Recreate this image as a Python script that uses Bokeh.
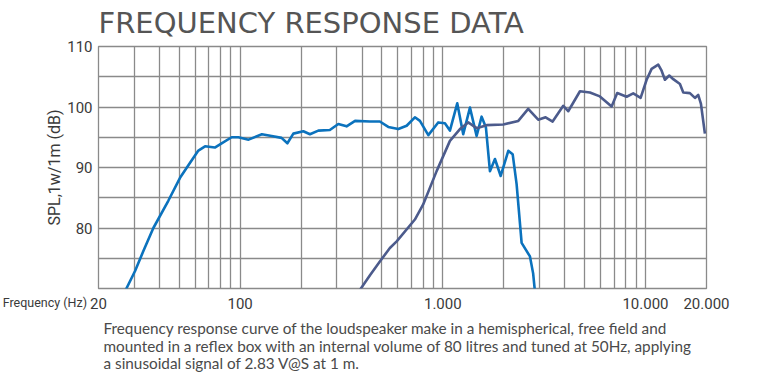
from bokeh.plotting import figure
from bokeh.models import FixedTicker, Range1d, Title
from bokeh.embed import file_html
from bokeh.resources import INLINE

# ---- data ----
woofer_f = [27, 30.3, 33.3, 37.3, 44.2, 50.5, 56.6, 62.2, 67.1, 75, 81, 90.8, 98, 110,
            128, 143, 160, 171, 183, 205, 221, 243, 277, 305, 335, 369, 437, 489, 538,
            603, 663, 728, 771, 848, 949, 1024, 1084, 1178, 1261, 1361, 1468, 1554, 1632,
            1708, 1808, 1930, 2104, 2211, 2313, 2448, 2691, 2790, 2848]
woofer_db = [69.5, 72.9, 76.2, 80.0, 84.5, 88.3, 90.8, 92.8, 93.5, 93.3, 94.0, 95.0, 95.0, 94.6,
             95.5, 95.2, 94.9, 94.0, 95.6, 96.0, 95.5, 96.1, 96.2, 97.2, 96.8, 97.7, 97.6, 97.6, 96.7,
             96.35, 96.9, 98.3, 97.7, 95.35, 97.45, 97.3, 96.1, 100.6, 95.5, 99.9, 95.2, 98.4, 96.6,
             89.4, 91.4, 88.6, 92.75, 92.2, 87.2, 77.55, 75.3, 72.5, 69.5]

tweeter_f = [385, 437, 490, 548, 592, 728, 800, 932, 1084, 1215, 1335, 1468, 1645, 1987, 2357,
             2638, 2955, 3215, 3482, 3929, 4157, 4750, 5318, 5957, 6805, 7254, 8068, 8700, 9462,
             10130, 10720, 11560, 12010, 12470, 13100, 13710, 14790, 15360, 16560, 17540, 18200,
             18780, 19640]
tweeter_db = [69.5, 72.2, 74.5, 76.7, 77.8, 81.4, 83.9, 89.4, 94.4, 96.35, 97.45, 96.5, 97.0, 97.1, 97.7,
              99.7, 97.9, 98.3, 97.6, 100.2, 99.3, 102.6, 102.4, 101.75, 100.1, 102.3, 101.7, 102.25, 101.5,
              104.5, 106.3, 107.0, 106.0, 104.5, 105.2, 104.6, 103.8, 102.4, 102.3, 101.5, 102.0,
              100.5, 95.6]

x_ticks = [20, 100, 1000, 10000, 20000]
x_tick_labels = ["20", "100", "1.000", "10.000", "20.000"]
x_grid = [20, 30, 40, 50, 60, 70, 80, 90,
          100, 200, 300, 400, 500, 600, 700, 800, 900,
          1000, 2000, 3000, 4000, 5000, 6000, 7000, 8000, 9000,
          10000, 20000]
y_ticks = [80, 90, 100, 110]
y_grid = [75, 80, 85, 90, 95, 100, 105]

title_text = "FREQUENCY RESPONSE DATA"
y_label = "SPL,1w/1m (dB)"
x_label = "Frequency (Hz)"
caption = [
    "Frequency response curve of the loudspeaker make in a hemispherical, free field and",
    "mounted in a reflex box with an internal volume of 80 litres and tuned at 50Hz, applying",
    "a sinusoidal signal of 2.83 V@S at 1 m.",
]

GRID = "#8a8a8a"
AXF = "Roboto"
TXT = "#3a3a3a"

p = figure(width=760, height=382, x_axis_type="log",
           x_range=Range1d(20, 20000), y_range=Range1d(70, 110),
           output_backend="svg", toolbar_location=None,
           min_border_left=98, min_border_right=54,
           min_border_top=46, min_border_bottom=94)
p.background_fill_color = "white"
p.border_fill_color = "white"
p.outline_line_color = GRID
p.outline_line_width = 1.3

p.xaxis.ticker = FixedTicker(ticks=x_ticks)
p.xaxis.major_label_overrides = {t: l for t, l in zip(x_ticks, x_tick_labels)}
p.yaxis.ticker = FixedTicker(ticks=y_ticks)
for ax in (p.xaxis, p.yaxis):
    ax.axis_line_color = None
    ax.major_tick_line_color = None
    ax.minor_tick_line_color = None
    ax.major_tick_out = 0
    ax.major_tick_in = 0
    ax.minor_tick_out = 0
    ax.minor_tick_in = 0
    ax.major_label_text_font = AXF
    ax.major_label_text_font_size = "15px"
    ax.major_label_text_color = TXT
p.xaxis.major_label_standoff = 9
p.yaxis.major_label_standoff = 6

p.yaxis.axis_label = y_label
p.yaxis.axis_label_standoff = 0
p.yaxis.axis_label_text_font = AXF
p.yaxis.axis_label_text_font_size = "16px"
p.yaxis.axis_label_text_font_style = "normal"
p.yaxis.axis_label_text_color = TXT

p.xgrid.ticker = FixedTicker(ticks=x_grid)
p.ygrid.ticker = FixedTicker(ticks=y_grid)
for g in (p.xgrid, p.ygrid):
    g.grid_line_color = GRID
    g.grid_line_width = 1.3
    g.grid_line_alpha = 1.0

p.line(woofer_f, woofer_db, line_color="#0b72bd", line_width=2.6, line_join="round")
p.line(tweeter_f, tweeter_db, line_color="#4c5b8c", line_width=2.6, line_join="round")

p.add_layout(Title(text=title_text, align="left", offset=0, standoff=10.2, vertical_align="top",
                   text_font="DejaVu Sans", text_font_size="29px", text_font_style="normal",
                   text_color="#555555"), "above")

cap_standoffs = [10.6, -15.3, 9.0]
for line, so in zip(caption, cap_standoffs):
    p.add_layout(Title(text=line, align="left", offset=5, standoff=so,
                       text_font="Lato", text_font_size="15.3px", text_font_style="normal",
                       text_color="#4a4a4a"), "below")

p.add_layout(Title(text=x_label, align="right", offset=619.5, standoff=-162.4, vertical_align="top",
                   text_font=AXF, text_font_size="12.5px", text_font_style="normal",
                   text_color=TXT), "below")

open("out.html", "w").write(file_html(p, INLINE))
